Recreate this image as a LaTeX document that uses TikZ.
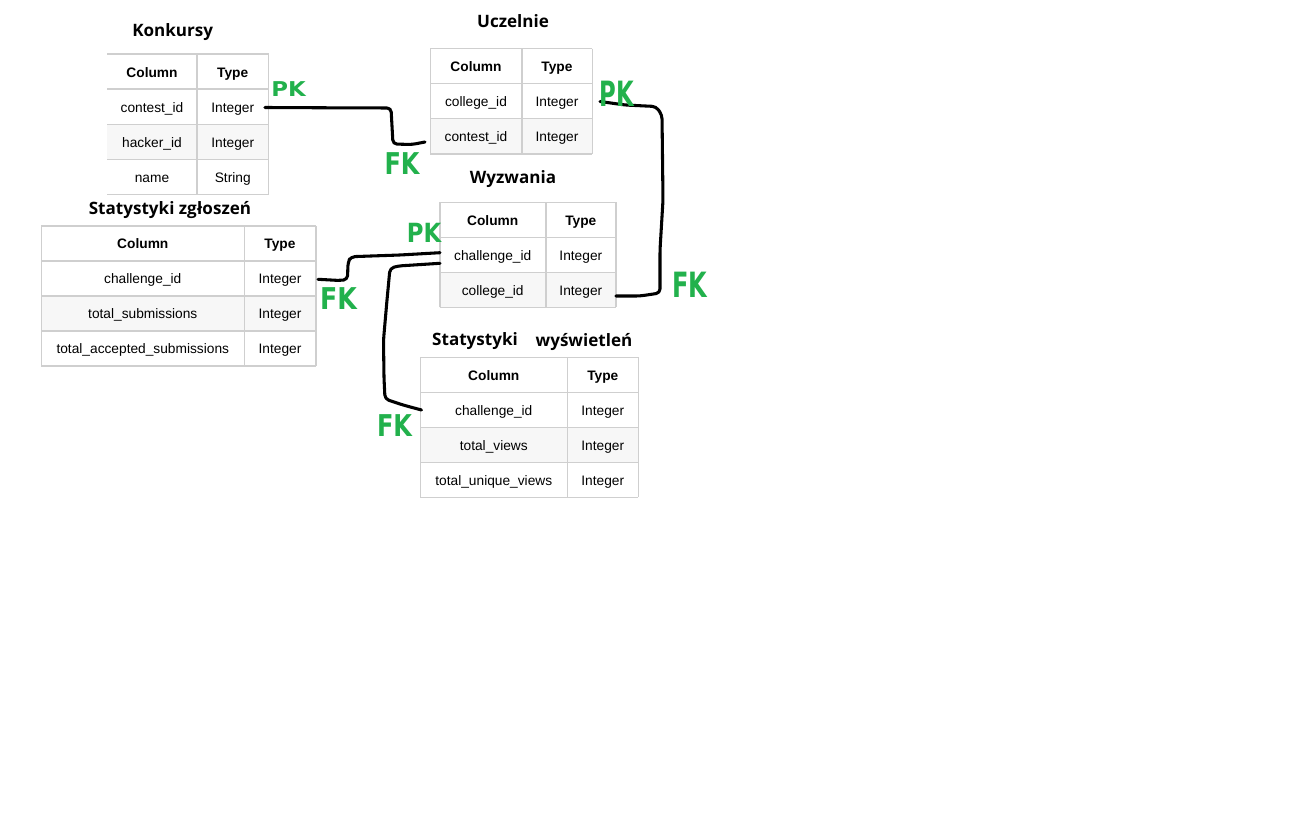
\documentclass[tikz,border=0pt]{standalone}
\usepackage{fontspec}
\setmainfont{Liberation Sans}
\newfontfamily\titlefont{Open Sans}
\newfontfamily\handfont{DejaVu Sans}
\definecolor{gridgray}{HTML}{CFCFCF}
\definecolor{rowshade}{HTML}{F7F7F7}
\definecolor{paintgreen}{HTML}{22B14C}

\tikzset{
  cellgrid/.style={draw=gridgray, line width=1.2pt},
  celltext/.style={anchor=base, inner sep=0pt, font=\fontsize{10.3}{12}\selectfont},
  tabtitle/.style={anchor=base, inner sep=0pt, font=\titlefont\bfseries\fontsize{12.8}{15}\selectfont},
  keymark/.style={inner sep=0pt, text=paintgreen, font=\handfont\bfseries\fontsize{18}{18}\selectfont},
  relation/.style={line width=2.3pt, line cap=round, line join=round, rounded corners=3pt},
}

% #1 name, #2 left, #3 divider, #4 right, #5 top, #6 number of rows,
% #7 cells (column/type), #8 draw left border (1) or not (0)
\newcommand\dbtable[8]{%
  \fill[rowshade] (#2,#5+70) rectangle (#4,#5+105);
  \foreach [count=\i] \ca/\cb in {#7} {
    \node[celltext] (#1-\i-c) at ({(#2+#3)/2},#5+\i*35-12.2) {\ca};
    \node[celltext] (#1-\i-t) at ({(#3+#4)/2},#5+\i*35-12.2) {\cb};
  }
  \foreach \k in {0,...,#6} \draw[cellgrid] (#2,#5+\k*35) -- (#4,#5+\k*35);
  \draw[cellgrid] (#3,#5) -- (#3,#5+#6*35);
  \draw[cellgrid] (#4,#5) -- (#4,#5+#6*35);
  \ifnum#8=1 \draw[cellgrid] (#2,#5) -- (#2,#5+#6*35);\fi
}

\begin{document}
\begin{tikzpicture}[x=0.75pt, y=-0.75pt]
  \fill[white] (0,0) rectangle (1314,817);
  \useasboundingbox (0,0) rectangle (1314,817);

  % tables
  \dbtable{konk}{107}{197}{268.5}{54.3}{4}%
    {\textbf{Column}/\textbf{Type}, contest\_id/Integer, hacker\_id/Integer, name/String}{0}
  \dbtable{ucz}{430.3}{521.7}{592.3}{48.7}{3}%
    {\textbf{Column}/\textbf{Type}, college\_id/Integer, contest\_id/Integer}{1}
  \dbtable{wyz}{439.7}{545.7}{616}{202.3}{3}%
    {\textbf{Column}/\textbf{Type}, challenge\_id/Integer, college\_id/Integer}{1}
  \dbtable{zgl}{41.3}{244.3}{315.7}{226}{4}%
    {\textbf{Column}/\textbf{Type}, challenge\_id/Integer, total\_submissions/Integer, total\_accepted\_submissions/Integer}{1}
  \dbtable{wys}{420.3}{567.3}{638.3}{357.3}{4}%
    {\textbf{Column}/\textbf{Type}, challenge\_id/Integer, total\_views/Integer, total\_unique\_views/Integer}{1}

  % table titles
  \node[tabtitle] (t-konk) at (172.7,36.7) {Konkursy};
  \node[tabtitle] (t-ucz) at (513,27.7) {Uczelnie};
  \node[tabtitle] (t-wyz) at (513,183.3) {Wyzwania};
  \node[tabtitle] (t-zgl) at (170,214) {Statystyki zgłoszeń};
  \node[tabtitle] (t-wys1) at (475,345) {Statystyki};
  \node[tabtitle] (t-wys2) at (584,346.7) {wyświetleń};

  % connector end points
  \coordinate (konkPK) at (265,107.5);
  \coordinate (uczFK) at (425,142);
  \coordinate (uczPK) at (600,101.5);
  \coordinate (wyzFK) at (616,296);
  \coordinate (wyzPKa) at (440,252.7);
  \coordinate (zglFK) at (318,279.3);
  \coordinate (wyzPKb) at (440,263.3);
  \coordinate (wysFK) at (421.5,410);

  % relations
  \draw[relation] (konkPK) -- (330,107.8) -- (391,108) -- (393,144) -- (412,144.5) -- (uczFK);
  \draw[relation] (uczPK) -- (625,105) -- (656,106.5) -- (662,115) -- (663,200)
                  -- (660,250) -- (660,293) -- (640,296) -- (wyzFK);
  \draw[relation] (wyzPKa) -- (400,255) -- (351,256.7) -- (348,262) -- (347.5,279.5)
                  -- (340,280.5) -- (zglFK);
  \draw[relation] (wyzPKb) -- (398,266) -- (390,268.3) -- (387,300) -- (383.5,340)
                  -- (384,378) -- (385,399) -- (403,405) -- (wysFK);

  % key marks
  \node[keymark] (pk1) at (288.5,89.5) {\scalebox{0.95}[0.85]{PK}};
  \node[keymark] (fk1) at (402,164) {\scalebox{1}[1.25]{FK}};
  \node[keymark] (pk2) at (617,94) {\scalebox{0.95}[1.45]{PK}};
  \node[keymark] (fk2) at (689.5,285) {\scalebox{1}[1.45]{FK}};
  \node[keymark] (pk3) at (424,232.5) {\scalebox{0.95}[1.1]{PK}};
  \node[keymark] (fk3) at (338.5,299) {\scalebox{1.05}[1.25]{FK}};
  \node[keymark] (fk4) at (394.5,426) {\scalebox{1}[1.25]{FK}};
\end{tikzpicture}
\end{document}
